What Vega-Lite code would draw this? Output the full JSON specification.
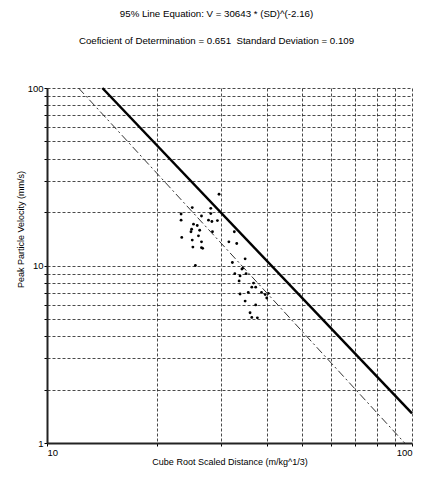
{
  "$schema": "https://vega.github.io/schema/vega-lite/v6.json",
  "width": 365,
  "height": 355,
  "autosize": {"type": "none"},
  "padding": {"left": 47, "top": 88, "right": 13, "bottom": 45},
  "background": "white",
  "config": {
    "view": {"stroke": null},
    "font": "Liberation Sans",
    "axis": {
      "labelFont": "Liberation Sans",
      "titleFont": "Liberation Sans",
      "labelFontSize": 9.5,
      "titleFontSize": 9,
      "titleFontWeight": "normal",
      "labelColor": "#000",
      "titleColor": "#000",
      "grid": true,
      "gridColor": "#111",
      "gridDash": [3, 2],
      "gridWidth": 0.9,
      "gridOpacity": 0.85,
      "domainColor": "#222",
      "domainWidth": 2,
      "ticks": true,
      "tickSize": 3,
      "tickColor": "#000",
      "tickWidth": 1
    }
  },
  "title": {
    "text": ["95% Line Equation: V = 30643 * (SD)^(-2.16)", "Coeficient of Determination = 0.651 \u00a0Standard Deviation = 0.109"],
    "font": "Liberation Sans",
    "fontSize": 9.7,
    "fontWeight": "normal",
    "color": "#000",
    "lineHeight": 27,
    "anchor": "middle",
    "frame": "bounds",
    "offset": 37
  },
  "datasets": {
    "points": [
      {"sd": 29.6, "v": 25.2}, {"sd": 25.0, "v": 21.2}, {"sd": 28.1, "v": 21.0}, {"sd": 23.3, "v": 19.5},
      {"sd": 26.5, "v": 19.0}, {"sd": 28.1, "v": 19.6}, {"sd": 23.3, "v": 18.0}, {"sd": 27.7, "v": 18.0},
      {"sd": 28.3, "v": 17.7}, {"sd": 29.3, "v": 17.9}, {"sd": 25.2, "v": 17.1}, {"sd": 25.8, "v": 16.8},
      {"sd": 24.9, "v": 16.0}, {"sd": 24.8, "v": 15.5}, {"sd": 26.2, "v": 15.8}, {"sd": 28.4, "v": 15.5},
      {"sd": 32.6, "v": 15.5}, {"sd": 26.0, "v": 14.7}, {"sd": 23.4, "v": 14.4}, {"sd": 25.0, "v": 13.9},
      {"sd": 26.5, "v": 13.6}, {"sd": 31.5, "v": 13.6}, {"sd": 33.1, "v": 13.3}, {"sd": 25.1, "v": 12.7},
      {"sd": 26.5, "v": 12.6}, {"sd": 26.7, "v": 12.5}, {"sd": 34.9, "v": 10.9}, {"sd": 32.2, "v": 10.4},
      {"sd": 25.5, "v": 10.0}, {"sd": 34.2, "v": 9.55}, {"sd": 34.4, "v": 9.67}, {"sd": 32.7, "v": 8.99},
      {"sd": 33.8, "v": 8.74}, {"sd": 35.1, "v": 8.99}, {"sd": 33.6, "v": 8.19}, {"sd": 36.8, "v": 7.96},
      {"sd": 37.3, "v": 7.55}, {"sd": 36.4, "v": 7.55}, {"sd": 35.6, "v": 7.05}, {"sd": 33.8, "v": 6.91},
      {"sd": 38.7, "v": 7.05}, {"sd": 39.6, "v": 6.86}, {"sd": 40.0, "v": 6.56}, {"sd": 40.4, "v": 6.97},
      {"sd": 34.9, "v": 6.30}, {"sd": 37.3, "v": 6.00}, {"sd": 36.0, "v": 5.42}, {"sd": 37.7, "v": 5.07},
      {"sd": 36.4, "v": 5.10}
    ],
    "solid": [{"sd": 14.18, "v": 100}, {"sd": 100, "v": 1.467}],
    "dashed": [{"sd": 12.2, "v": 100}, {"sd": 95.5, "v": 1}]
  },
  "layer": [
    {
      "data": {"name": "points"},
      "mark": {"type": "circle", "size": 8, "color": "#000", "opacity": 1},
      "encoding": {
        "x": {
          "field": "sd", "type": "quantitative",
          "scale": {"type": "log", "domain": [10, 100], "nice": false},
          "axis": {
            "title": "Cube Root Scaled Distance (m/kg^1/3)",
            "values": [10, 20, 30, 40, 50, 60, 70, 80, 90, 100],
            "labelExpr": "datum.value == 10 ? '10' : datum.value == 100 ? '100' : ''",
            "labelPadding": 1,
            "titlePadding": 1
          }
        },
        "y": {
          "field": "v", "type": "quantitative",
          "scale": {"type": "log", "domain": [1, 100], "nice": false},
          "axis": {
            "title": "Peak Particle Velocity (mm/s)",
            "values": [1, 2, 3, 4, 5, 6, 7, 8, 9, 10, 20, 30, 40, 50, 60, 70, 80, 90, 100],
            "labelExpr": "datum.value == 1 ? '1' : datum.value == 10 ? '10' : datum.value == 100 ? '100' : ''",
            "labelPadding": 1,
            "titleX": -27,
            "titleY": 141,
            "titleBaseline": "middle"
          }
        }
      }
    },
    {
      "data": {"name": "dashed"},
      "mark": {"type": "line", "color": "#333", "strokeWidth": 1, "strokeDash": [8, 3, 2, 3]},
      "encoding": {
        "x": {"field": "sd", "type": "quantitative"},
        "y": {"field": "v", "type": "quantitative"}
      }
    },
    {
      "data": {"name": "solid"},
      "mark": {"type": "line", "color": "#000", "strokeWidth": 2.5},
      "encoding": {
        "x": {"field": "sd", "type": "quantitative"},
        "y": {"field": "v", "type": "quantitative"}
      }
    }
  ]
}
